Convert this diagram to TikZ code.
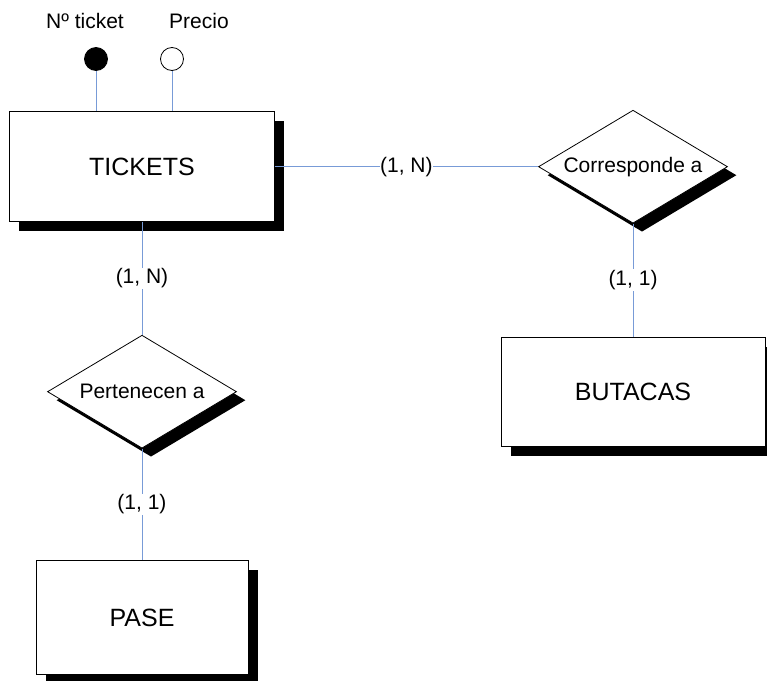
\documentclass[tikz,border=0pt]{standalone}
\usepackage{fontspec}
\setmainfont{Liberation Sans}
\usetikzlibrary{shapes.geometric,shadows}
\definecolor{linkblue}{RGB}{120,155,215}
\tikzset{
  shad/.style={drop shadow={shadow xshift=9.5pt,shadow yshift=-9.5pt,fill=black,opacity=1}},
  entity/.style={draw=black,line width=0.8pt,fill=white,rectangle,inner sep=0pt,shad,font=\fontsize{25}{30}\selectfont},
  relation/.style={draw=black,line width=0.8pt,fill=white,diamond,aspect=1.67,inner sep=0pt,minimum width=189pt,minimum height=113pt,drop shadow={shadow xshift=9pt,shadow yshift=-8.5pt,fill=black,opacity=1},font=\fontsize{21}{25}\selectfont},
  link/.style={draw=linkblue,line width=1pt},
  card/.style={fill=white,inner sep=1pt,font=\fontsize{21}{25}\selectfont,text=black},
  attrtext/.style={inner sep=0pt,font=\fontsize{21}{25}\selectfont},
  keyattr/.style={circle,draw=black,fill=black,line width=0.8pt,minimum size=23pt,inner sep=0pt},
  plainattr/.style={circle,draw=black,fill=white,line width=0.8pt,minimum size=23pt,inner sep=0pt}
}
\begin{document}
\begin{tikzpicture}[x=1pt,y=-1pt]
\useasboundingbox (0,0) rectangle (767,680);
% entities
\node[entity,minimum width=264.5pt,minimum height=110pt] (tk) at (142,166.7) {TICKETS};
\node[entity,minimum width=264pt,minimum height=109pt] (bu) at (633,391.7) {BUTACAS};
\node[entity,minimum width=212pt,minimum height=114pt] (pa) at (142,617.8) {PASE};
% relations
\node[relation] (co) at (633,166.7) {Corresponde a};
\node[relation] (pe) at (142,391.7) {Pertenecen a};
% attributes
\node[keyattr] (nt) at (96,59) {};
\node[plainattr] (pr) at (172,59) {};
\node[attrtext] (ntl) at (85,21) {Nº ticket};
\node[attrtext] (prl) at (199,21) {Precio};
\draw[link] (nt.south) -- (nt.south |- tk.north);
\draw[link] (pr.south) -- (pr.south |- tk.north);
% connectors
\draw[link] (tk.east) -- node[card,inner sep=0pt] (c1) {(1, N)} (co.west);
\draw[link] (tk.south) -- node[card] (c2) {(1, N)} (pe.north);
\draw[link] (co.south) -- node[card] (c3) {(1, 1)} (bu.north);
\draw[link] (pe.south) -- node[card] (c4) {(1, 1)} (pa.north);
\end{tikzpicture}
\end{document}
